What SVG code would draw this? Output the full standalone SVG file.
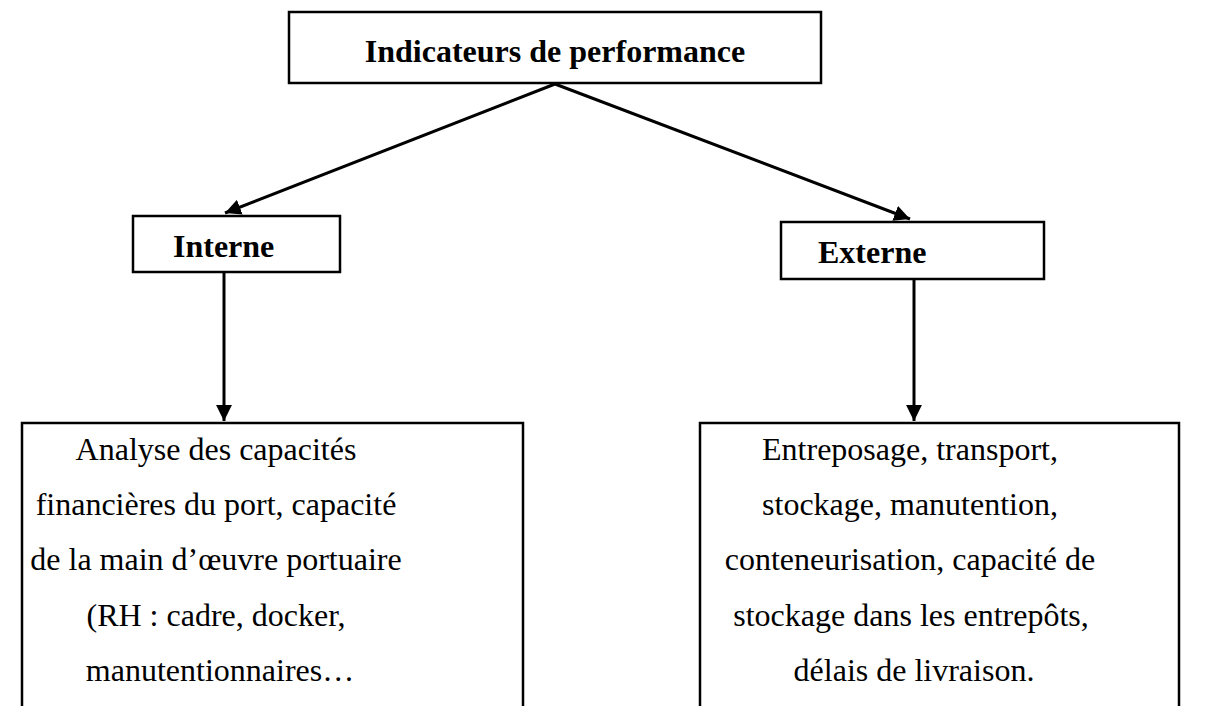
<svg xmlns="http://www.w3.org/2000/svg" width="1219" height="706" viewBox="0 0 1219 706">
<style>
.box{fill:#fff;stroke:#000;stroke-width:2.5}
.t{font-family:"Liberation Serif","Times New Roman",serif;font-size:32px;fill:#000}
.b{font-weight:bold}
.c{stroke:#000;stroke-width:3;fill:none}
</style>
<defs>
<marker id="ah" viewBox="0 0 10 10" refX="10" refY="5" markerWidth="5.3" markerHeight="5.3" markerUnits="strokeWidth" orient="auto">
<path d="M0,0 L10,5 L0,10 z" fill="#000"/>
</marker>
</defs>
<rect width="1219" height="706" fill="#fff"/>
<g id="connectors">
<line class="c" x1="555" y1="84" x2="225" y2="213" marker-end="url(#ah)"/>
<line class="c" x1="555" y1="84" x2="910" y2="219" marker-end="url(#ah)"/>
<line class="c" x1="224" y1="273" x2="224" y2="421" marker-end="url(#ah)"/>
<line class="c" x1="914" y1="280" x2="914" y2="421" marker-end="url(#ah)"/>
</g>
<g id="top">
<rect class="box" x="289" y="12" width="532" height="71"/>
<text class="t b" x="555" y="62" text-anchor="middle">Indicateurs de performance</text>
</g>
<g id="interne">
<rect class="box" x="133" y="216" width="207" height="56"/>
<text class="t b" x="173" y="257">Interne</text>
</g>
<g id="externe">
<rect class="box" x="781" y="222" width="263" height="57"/>
<text class="t b" x="818" y="263">Externe</text>
</g>
<g id="interne-detail">
<rect class="box" x="22" y="423" width="501" height="300"/>
<text class="t" text-anchor="middle">
<tspan x="220" y="460">Analyse des capacités</tspan>
<tspan x="220" y="515">financières du port, capacité</tspan>
<tspan x="220" y="570">de la main d’œuvre portuaire</tspan>
<tspan x="220" y="626">(RH : cadre, docker,</tspan>
<tspan x="220" y="681">manutentionnaires…</tspan>
</text>
</g>
<g id="externe-detail">
<rect class="box" x="700" y="423" width="479" height="300"/>
<text class="t" text-anchor="middle">
<tspan x="914" y="460">Entreposage, transport,</tspan>
<tspan x="914" y="515">stockage, manutention,</tspan>
<tspan x="914" y="570">conteneurisation, capacité de</tspan>
<tspan x="915" y="626">stockage dans les entrepôts,</tspan>
<tspan x="914" y="681">délais de livraison.</tspan>
</text>
</g>
</svg>
